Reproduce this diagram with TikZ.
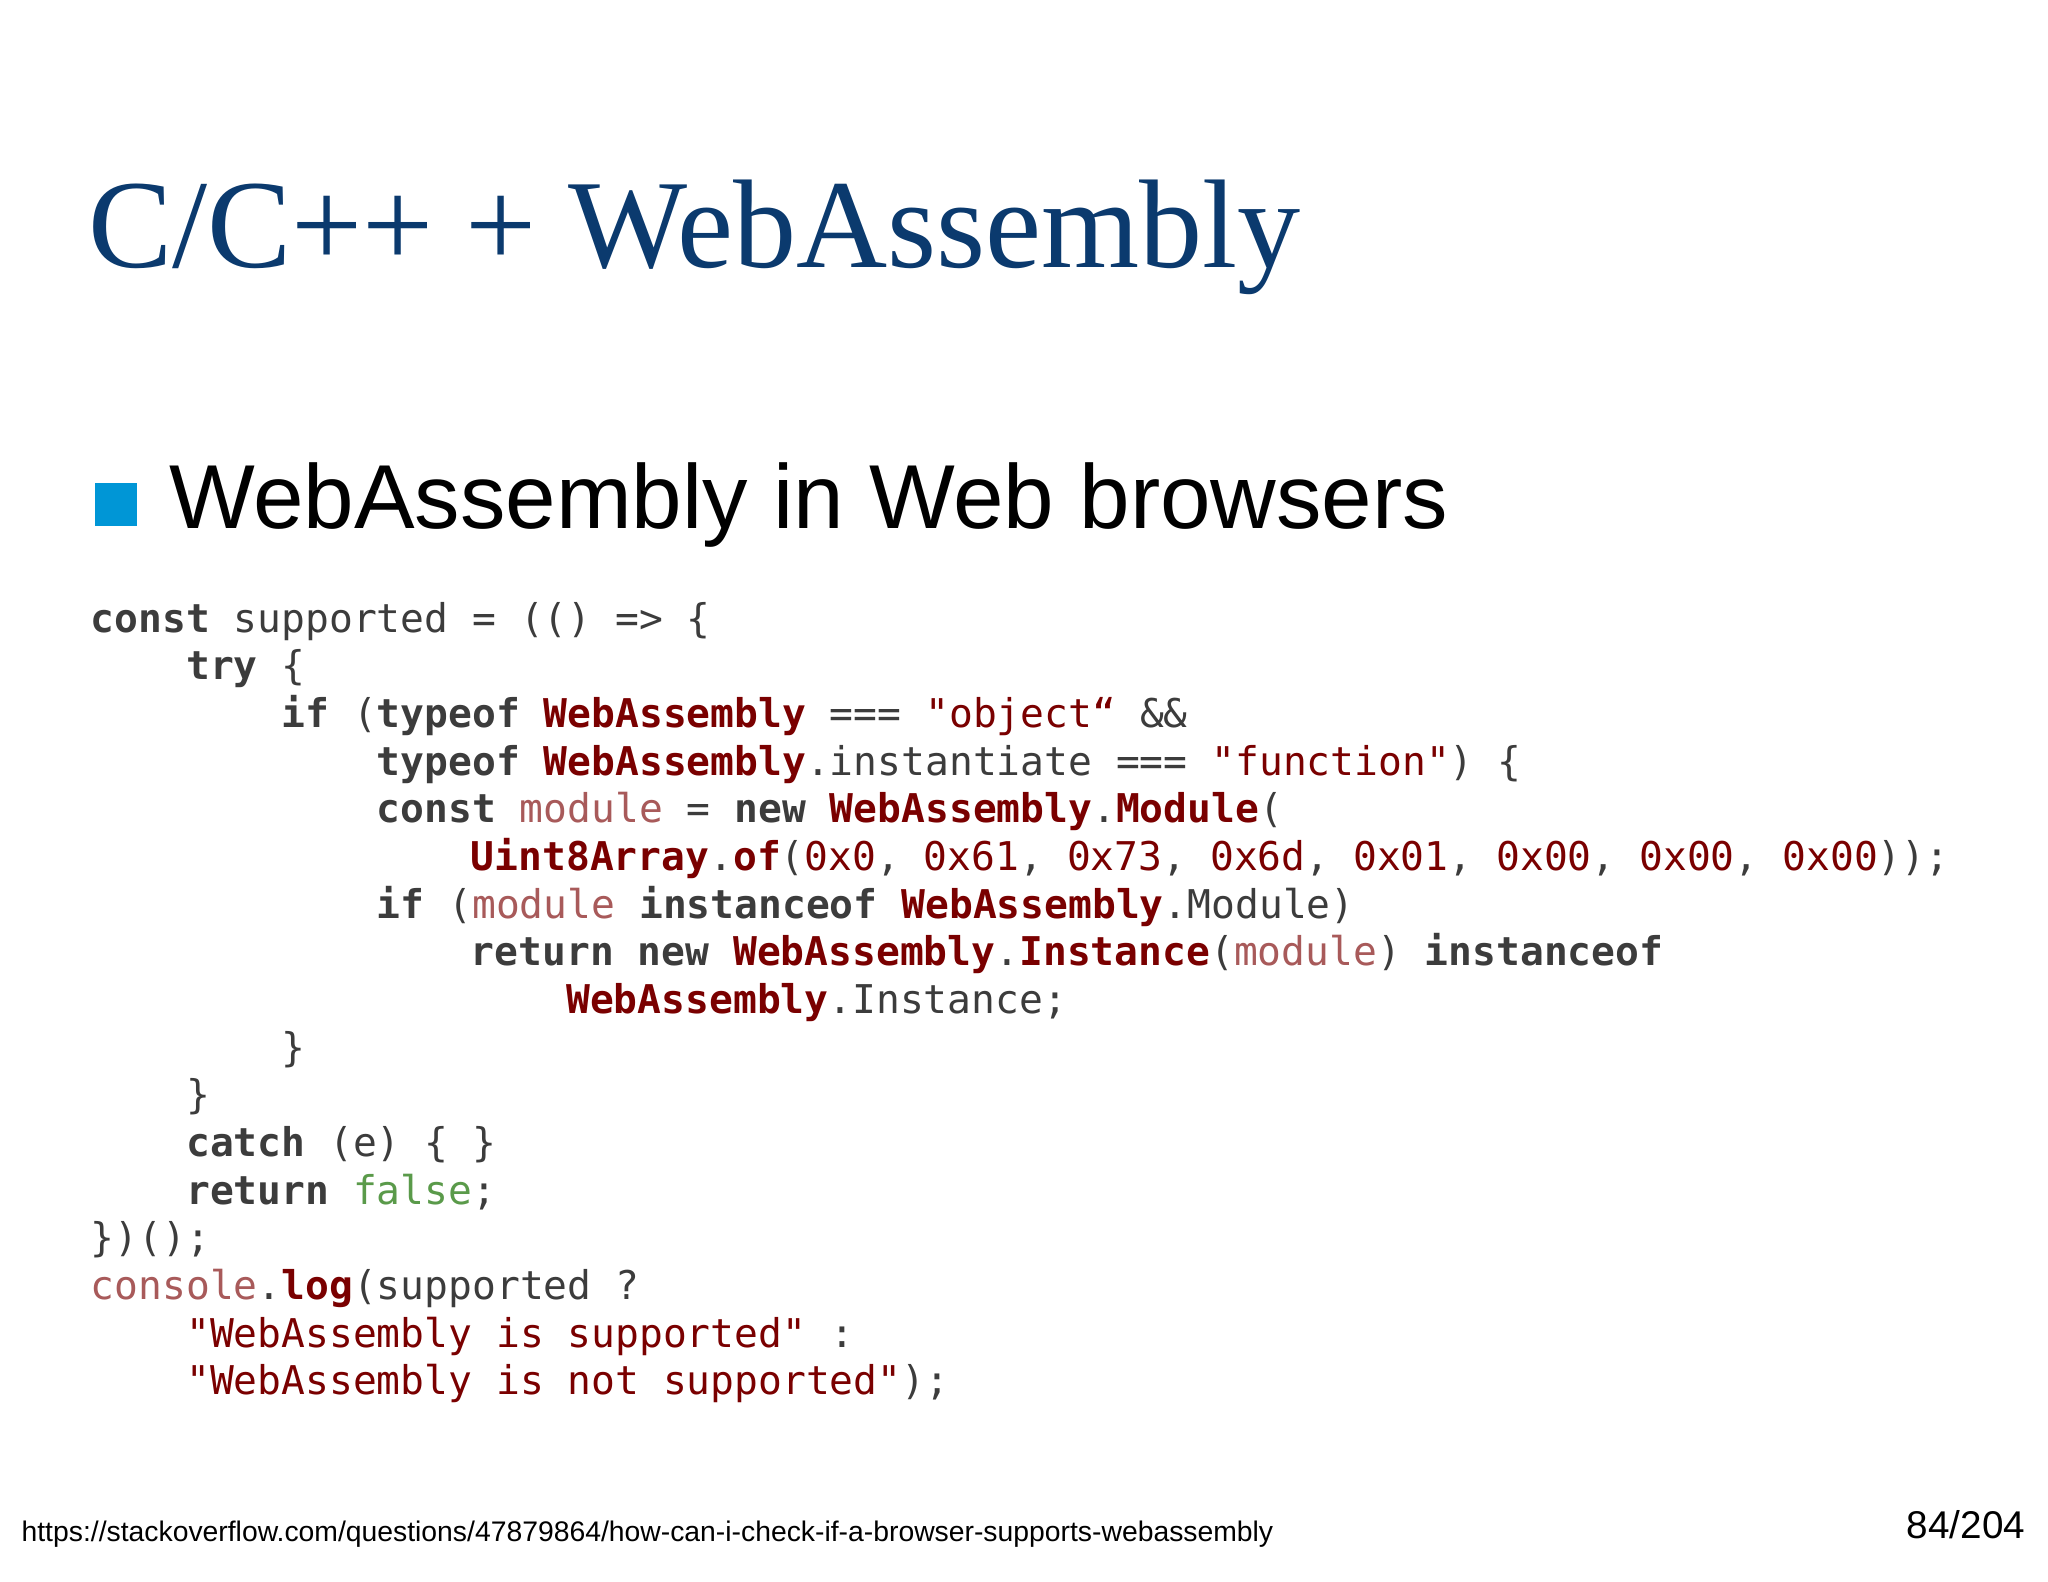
\documentclass[tikz,border=0pt]{standalone}
\usepackage{fontspec}
\setmainfont{Liberation Serif}
\newfontfamily\sansf{Liberation Sans}
\newfontfamily\codef{DejaVu Sans Mono}
\definecolor{titleblue}{HTML}{0B3A6E}
\definecolor{bulletblue}{HTML}{0096D6}
\definecolor{cgray}{HTML}{3C3C3C}
\definecolor{cred}{HTML}{7A0000}
\definecolor{crose}{HTML}{A85A5A}
\definecolor{cgreen}{HTML}{5A9A4A}
\newcommand\wa[1]{\textcolor{cred}{\bfseries #1}}
\newcommand\sr[1]{\textcolor{cred}{#1}}
\newcommand\kw[1]{{\bfseries #1}}
\newcommand\md[1]{\textcolor{crose}{#1}}
\newcommand\fl[1]{\textcolor{cgreen}{#1}}
\begin{document}
\begin{tikzpicture}[x=0.01306cm,y=-0.01306cm,
  codeline/.style={anchor=base west,inner sep=0pt,text=cgray,font=\codef\fontsize{11.27pt}{13pt}\selectfont}]
\useasboundingbox[fill=white] (0,0) rectangle (1568,1211);
\node[anchor=base west,inner sep=0pt,text=titleblue,font=\fontsize{35.9pt}{40pt}\selectfont] (title) at (67,205) {C/C++ + WebAssembly};
\fill[bulletblue] (73,370) rectangle (105,403);
\node[anchor=base west,inner sep=0pt,font=\sansf\fontsize{25.85pt}{30pt}\selectfont] (bullet) at (129,405) {WebAssembly in Web browsers};
\node[codeline] (l1) at (69,484) {\kw{const} supported = (() => \{};
\node[codeline] (l2) at (142,520.5) {\kw{try} \{};
\node[codeline] (l3) at (215,557) {\kw{if} (\kw{typeof} \wa{WebAssembly} === \sr{"object“} \&\&};
\node[codeline] (l4) at (288,593.5) {\kw{typeof} \wa{WebAssembly}.instantiate === \sr{"function"}) \{};
\node[codeline] (l5) at (288,630) {\kw{const} \md{module} = \kw{new} \wa{WebAssembly}.\wa{Module}(};
\node[codeline] (l6) at (360,666.5) {\wa{Uint8Array}.\wa{of}(\sr{0x0}, \sr{0x61}, \sr{0x73}, \sr{0x6d}, \sr{0x01}, \sr{0x00}, \sr{0x00}, \sr{0x00}));};
\node[codeline] (l7) at (288,703) {\kw{if} (\md{module} \kw{instanceof} \wa{WebAssembly}.Module)};
\node[codeline] (l8) at (360,739.5) {\kw{return} \kw{new} \wa{WebAssembly}.\wa{Instance}(\md{module}) \kw{instanceof}};
\node[codeline] (l9) at (433,776) {\wa{WebAssembly}.Instance;};
\node[codeline] (l10) at (215,812.5) {\}};
\node[codeline] (l11) at (142,849) {\}};
\node[codeline] (l12) at (142,885.5) {\kw{catch} (e) \{ \}};
\node[codeline] (l13) at (142,922) {\kw{return} \fl{false};};
\node[codeline] (l14) at (69,958.5) {\})();};
\node[codeline] (l15) at (69,995) {\md{console}.\wa{log}(supported ?};
\node[codeline] (l16) at (142,1031.5) {\sr{"WebAssembly is supported"} :};
\node[codeline] (l17) at (142,1068) {\sr{"WebAssembly is not supported"});};
\node[anchor=base west,inner sep=0pt,font=\sansf\fontsize{8.06pt}{9pt}\selectfont] (url) at (16,1180) {https://stackoverflow.com/questions/47879864/how-can-i-check-if-a-browser-supports-webassembly};
\node[anchor=base east,inner sep=0pt,font=\sansf\fontsize{11pt}{12pt}\selectfont] (page) at (1551,1178) {84/204};
\end{tikzpicture}
\end{document}
